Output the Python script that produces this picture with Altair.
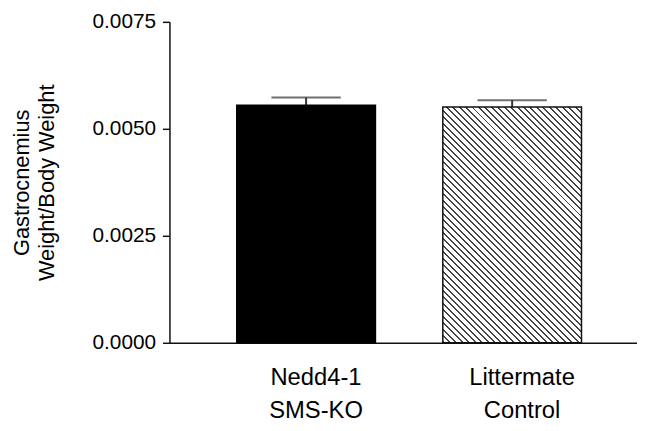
import altair as alt
import pandas as pd

# ---- data ----
groups = ["Nedd4-1 SMS-KO", "Littermate Control"]
means = [0.00555, 0.00551]
upper = [0.00573, 0.00567]
y_ticks = [0.0, 0.0025, 0.0050, 0.0075]

df = pd.DataFrame({"group": groups, "mean": means, "upper": upper})

# ---- layout / style ----
W, H = 472, 324
YMAX = 0.0075
P_IN, P_OUT, ALIGN = 0.327, 0.298, 0.548
FONT = "Liberation Sans"

step = W / (len(groups) - P_IN + 2 * P_OUT)
bw = step * (1 - P_IN)
bh = means[1] / YMAX * H

# diagonal hatch as a hard-stop linear gradient (bounding-box units)
D = bw + bh
s = D * bw / (bw ** 2 + bh ** 2)
period, lw = 6.5, 2.0
stops = []
k = 0
while k * period < D:
    a = k * period / D
    b = min((k * period + lw) / D, 1.0)
    c = min((k + 1) * period / D, 1.0)
    stops += [
        {"offset": a, "color": "#444444"},
        {"offset": b, "color": "#444444"},
        {"offset": b, "color": "#ffffff"},
        {"offset": c, "color": "#ffffff"},
    ]
    k += 1
hatch = {"gradient": "linear", "x1": 0, "y1": 1, "x2": s, "y2": 1 - s * bh / bw, "stops": stops}

x_scale = alt.Scale(domain=groups, paddingInner=P_IN, paddingOuter=P_OUT, align=ALIGN)
y_scale = alt.Scale(domain=[0, YMAX], nice=False, zero=True)

x_enc = alt.X(
    "group:N",
    scale=x_scale,
    sort=groups,
    axis=alt.Axis(
        title=None,
        ticks=False,
        tickSize=0,
        labelAngle=0,
        labelExpr="split(datum.label, ' ')",
        labelFont=FONT,
        labelFontSize=24,
        labelLineHeight=33,
        labelPadding=23,
        labelOffset=10,
        labelColor="black",
        domainColor="#111111",
        domainWidth=1.5,
        grid=False,
    ),
)
y_axis = alt.Axis(
    values=y_ticks,
    format=".4f",
    title=["Gastrocnemius", "Weight/Body Weight"],
    titleFont=FONT,
    titleFontSize=22,
    titleFontWeight="normal",
    titleColor="black",
    titleAngle=270,
    titleAlign="center",
    titleBaseline="alphabetic",
    titleLineHeight=25,
    titleX=-142,
    titleY=H / 2,
    labelFont=FONT,
    labelFontSize=21,
    labelColor="black",
    labelPadding=7,
    tickSize=7,
    tickWidth=1.5,
    tickColor="#111111",
    domainColor="#111111",
    domainWidth=1.5,
    grid=False,
)

base = alt.Chart(df)

bar_ko = base.transform_filter(alt.datum.group == groups[0]).mark_bar(
    fill="black", stroke="black", strokeWidth=1.5
).encode(x=x_enc, y=alt.Y("mean:Q", scale=y_scale, axis=y_axis))

bar_ctl = base.transform_filter(alt.datum.group == groups[1]).mark_bar(
    fill=hatch, stroke="#111111", strokeWidth=1.5
).encode(x=x_enc, y=alt.Y("mean:Q", scale=y_scale, axis=y_axis))

err = base.mark_rule(color="#333333", strokeWidth=2).encode(
    x=x_enc, y=alt.Y("mean:Q", scale=y_scale, axis=y_axis), y2="upper:Q"
)
cap = base.mark_tick(color="#333333", size=70, thickness=2).encode(
    x=x_enc, y=alt.Y("upper:Q", scale=y_scale, axis=y_axis)
)

chart = (
    alt.layer(err, cap, bar_ko, bar_ctl)
    .properties(
        width=W,
        height=H,
        autosize=alt.AutoSizeParams(type="none"),
        padding={"left": 163, "top": 12, "right": 0, "bottom": 79},
        background="white",
    )
    .configure_view(stroke=None)
)

chart.save("out.html", embed_options={"renderer": "svg", "actions": False})
